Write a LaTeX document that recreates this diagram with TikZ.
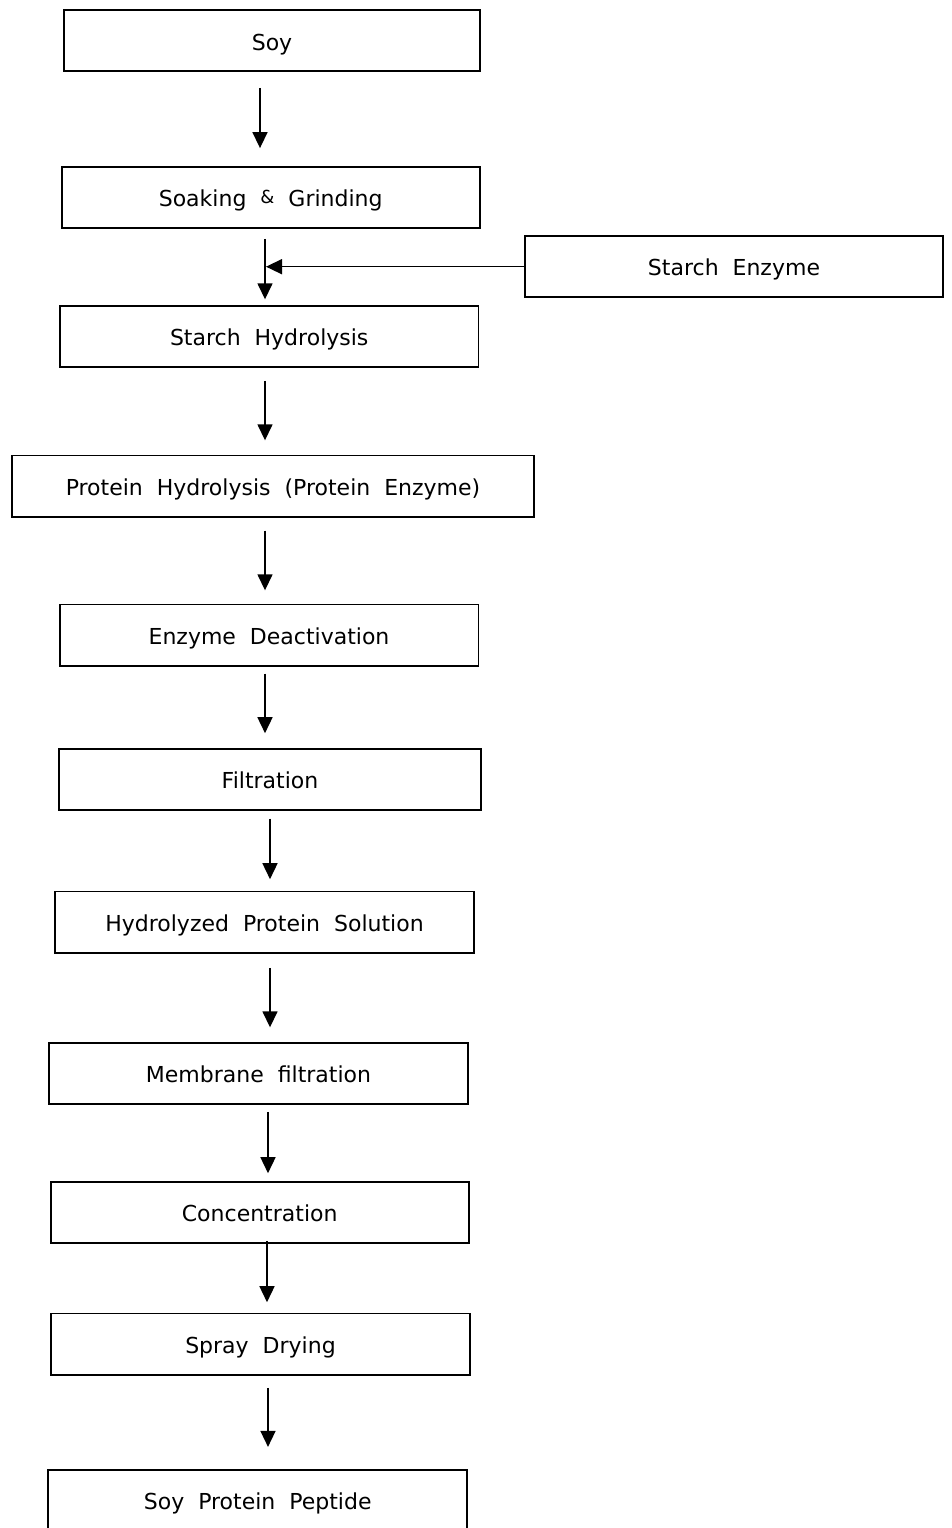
\documentclass[tikz,border=0pt]{standalone}
\usepackage{fontspec}
\setmainfont{DejaVu Sans}[WordSpace=2.0]
\usetikzlibrary{arrows.meta}
\begin{document}
\begin{tikzpicture}[x=1pt,y=-1pt,
  box/.style={draw, line width=1.8pt, minimum height=61.2pt, inner sep=0pt,
    font=\fontsize{22}{26}\selectfont,
    text height=18.5pt, text depth=0pt},
  arr/.style={line width=1.5pt, -{Triangle[width=15pt,length=16pt]}}]
\useasboundingbox (0,0) rectangle (951,1528);
\fill[white] (0,0) rectangle (951,1528);
\clip (0,0) rectangle (951,1528);

\node[box, minimum width=415.6pt] (soy)   at (272,40.8)    {Soy};
\node[box, minimum width=418.2pt] (soak)  at (270.7,197.2) {Soaking \raisebox{2.5pt}{\fontsize{18}{20}\selectfont\&} Grinding};
\node[box, minimum width=418.2pt] (enz)   at (734,266.7)   {Starch Enzyme};
\node[box, minimum width=418.5pt] (starch) at (269.2,336.7) {Starch Hydrolysis};
\node[box, minimum width=522.2pt] (prot)  at (273,486)     {Protein Hydrolysis (Protein Enzyme)};
\node[box, minimum width=418.8pt] (deact) at (269,635)     {Enzyme Deactivation};
\node[box, minimum width=422.2pt] (filt)  at (270,779.3)   {Filtration};
\node[box, minimum width=418.6pt] (hydro) at (264.5,922.1) {Hydrolyzed Protein Solution};
\node[box, minimum width=418.6pt] (memb)  at (258.5,1073.7) {Membrane filtration};
\node[box, minimum width=418.2pt] (conc)  at (259.7,1212.6) {Concentration};
\node[box, minimum width=418.6pt] (spray) at (260.5,1344.1) {Spray Drying};
\node[box, minimum width=418.9pt] (pep)   at (257.7,1500.6) {Soy Protein Peptide};

\coordinate (join) at (266,266.7);

\draw[arr] ([xshift=-12pt,yshift=-15.6pt]soy.south) -- ([xshift=-10.7pt,yshift=17.6pt]soak.north);
\draw[arr] ([xshift=-5.7pt,yshift=-10.2pt]soak.south) -- ([xshift=-4.2pt,yshift=5.9pt]starch.north);
\draw[arr] (enz.west) -- (join);
\draw[arr] ([xshift=-4.2pt,yshift=-12.6pt]starch.south) -- ([xshift=-8pt,yshift=14.2pt]prot.north);
\draw[arr] ([xshift=-8pt,yshift=-13.2pt]prot.south) -- ([xshift=-4pt,yshift=13.2pt]deact.north);
\draw[arr] ([xshift=-4pt,yshift=-7.2pt]deact.south) -- ([xshift=-5pt,yshift=14.6pt]filt.north);
\draw[arr] ([xshift=0pt,yshift=-7.9pt]filt.south) -- ([xshift=5.5pt,yshift=11.4pt]hydro.north);
\draw[arr] ([xshift=5.5pt,yshift=-14.2pt]hydro.south) -- ([xshift=11.5pt,yshift=14.9pt]memb.north);
\draw[arr] ([xshift=9.5pt,yshift=-6.6pt]memb.south) -- ([xshift=8.3pt,yshift=7.9pt]conc.north);
\draw[arr] ([xshift=7.3pt,yshift=3.3pt]conc.south) -- ([xshift=6.5pt,yshift=10.4pt]spray.north);
\draw[arr] ([xshift=7.5pt,yshift=-12.2pt]spray.south) -- ([xshift=10.3pt,yshift=22.2pt]pep.north);
\end{tikzpicture}
\end{document}
